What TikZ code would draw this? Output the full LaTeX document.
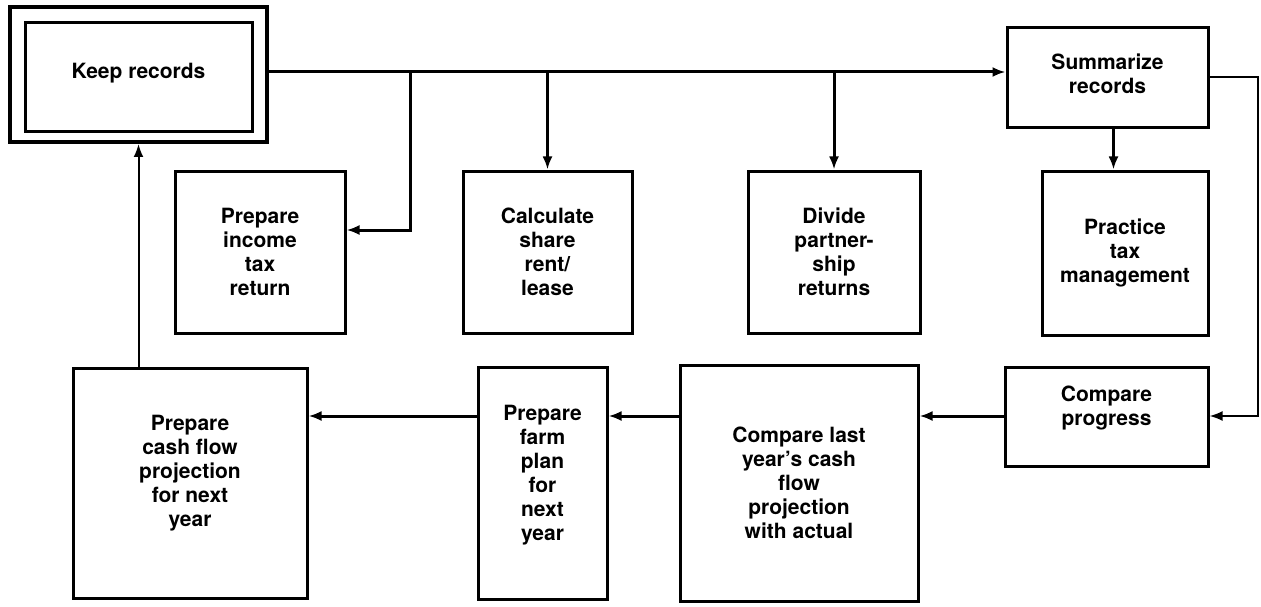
\documentclass[tikz,border=0pt]{standalone}
\usepackage{fontspec}
\setmainfont{TeX Gyre Heros}
\usetikzlibrary{arrows.meta,positioning}
\begin{document}
\begin{tikzpicture}[x=1pt,y=-1pt,
  box/.style={draw, line width=3pt, inner sep=0pt, align=center, font=\fontsize{21}{24}\selectfont\bfseries},
  txt/.style={inner sep=0pt, align=center, font=\fontsize{21}{24}\selectfont\bfseries},
  conn/.style={line width=3pt, -{Latex[length=13pt,width=10pt]}},
  thinconn/.style={line width=2pt, -{Latex[length=13pt,width=10pt]}}]
\useasboundingbox (0,0) rectangle (1261,607);
% boxes
\node[box, line width=4pt, minimum width=257pt, minimum height=135pt] (keepo) at (138.5,74.5) {};
\node[box, minimum width=227pt, minimum height=109pt] (keepi) at (138.5,77.5) {};
\node[txt] (keeptxt) at (138.5,73) {Keep records};
\node[box, minimum width=170pt, minimum height=162pt] (income) at (260,252) {Prepare\\income\\tax\\return};
\node[box, minimum width=169pt, minimum height=162pt] (calc) at (547.5,252) {Calculate\\share\\rent/\\lease};
\node[box, minimum width=172pt, minimum height=162pt] (divide) at (834,252) {Divide\\partner-\\ship\\returns};
\node[box, minimum width=201pt, minimum height=100pt] (summ) at (1107.5,78) {};
\node[txt] (summtxt) at ([yshift=4pt]summ.center) {Summarize\\records};
\node[box, minimum width=166pt, minimum height=164pt] (practice) at (1125,253) {Practice\\tax\\management};
\node[box, minimum width=203pt, minimum height=99pt] (progress) at (1106.5,416.5) {};
\node[txt] (progresstxt) at ([yshift=8pt]progress.center) {Compare\\progress};
\node[box, minimum width=238pt, minimum height=236pt] (complast) at (799,483) {Compare last\\year's cash\\flow\\projection\\with actual};
\node[box, minimum width=129pt, minimum height=232pt] (farm) at (542.5,483) {};
\node[txt] (farmtxt) at ([yshift=8pt]farm.center) {Prepare\\farm\\plan\\for\\next\\year};
\node[box, minimum width=234pt, minimum height=230pt] (cash) at (190,483) {};
\node[txt] (cashtxt) at ([yshift=10pt]cash.center) {Prepare\\cash flow\\projection\\for next\\year};
% connectors
\coordinate (m0) at (267,72);
\coordinate (j1) at (410,230);
\coordinate (r1) at (1258,77);
\coordinate (b0) at (1005,416);
\draw[conn] (m0) -- (m0 -| summ.west);
\draw[conn] (m0 -| j1) -- (j1) -- (income.east |- j1);
\draw[conn] (m0 -| calc.north) -- (calc.north);
\draw[conn] (m0 -| divide.north) -- (divide.north);
\draw[conn] ([xshift=6pt]summ.south) -- ([xshift=6pt]summ.south |- practice.north);
\draw[thinconn] (summ.east |- r1) -- (r1) -- (r1 |- b0) -- (progress.east |- b0);
\draw[conn] (b0) -- (b0 -| complast.east);
\draw[conn] (complast.west |- b0) -- (farm.east |- b0);
\draw[conn] (farm.west |- b0) -- (cash.east |- b0);
\draw[thinconn] (keepo.south |- cash.north) -- (keepo.south);
\end{tikzpicture}
\end{document}
